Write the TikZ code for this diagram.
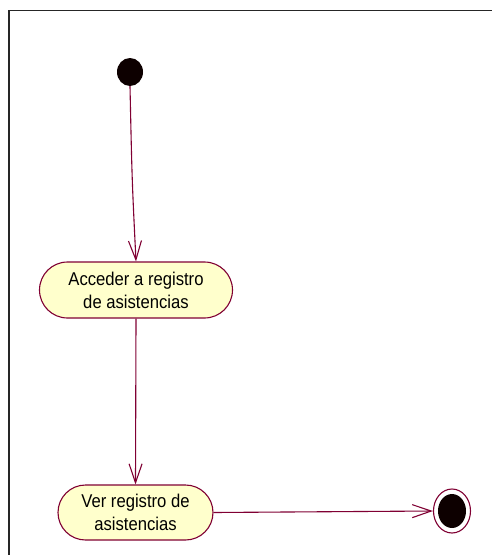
\documentclass[tikz,border=0pt]{standalone}
\usepackage{fontspec}
\setmainfont{Liberation Sans}
\newfontfamily\actfont[FakeStretch=0.9]{Liberation Sans}
\usetikzlibrary{shapes.misc,shapes.geometric,arrows.meta}
\definecolor{umlline}{HTML}{800033}
\definecolor{umlfill}{HTML}{FFFFCC}
\tikzset{
  flow/.style={draw=umlline, line width=1.1pt, -{Straight Barb[length=19pt,width=13pt,line width=1.1pt]}},
  activity/.style={rounded rectangle, draw=umlline, line width=1.1pt, fill=umlfill,
     inner sep=0pt, align=center, font=\actfont\fontsize{18.5}{23}\selectfont},
}
\begin{document}
\begin{tikzpicture}[x=1pt,y=-1pt]
\useasboundingbox (0,0) rectangle (491,555);
\fill[white] (0,0) rectangle (491,555);
% frame (top and left visible)
\draw[line width=1.6pt, black!85] (9,556) -- (9,10.5) -- (492,10.5);
% start
\node[ellipse, fill=black!95!red, minimum width=26pt, minimum height=28pt, inner sep=0pt] (start) at (130,72) {};
% activities
\node[activity, minimum width=193pt, minimum height=56pt] (a1) at (136,290) {Acceder a registro\\de asistencias};
\node[activity, minimum width=155pt, minimum height=55pt] (a2) at (135.5,512.5) {Ver registro de\\asistencias};
% end
\node[ellipse, draw=umlline, line width=1.1pt, minimum width=37pt, minimum height=44pt, inner sep=0pt] (end) at (452,511) {};
\node[ellipse, fill=black!95!red, minimum width=28pt, minimum height=34pt, inner sep=0pt] (endin) at (end.center) {};
% flows
\draw[flow] (start.south) .. controls (132,180) .. (a1.north);
\draw[flow] (a1.south) -- (a2.north);
\draw[flow] (a2.east) -- (end.west);
\end{tikzpicture}
\end{document}
